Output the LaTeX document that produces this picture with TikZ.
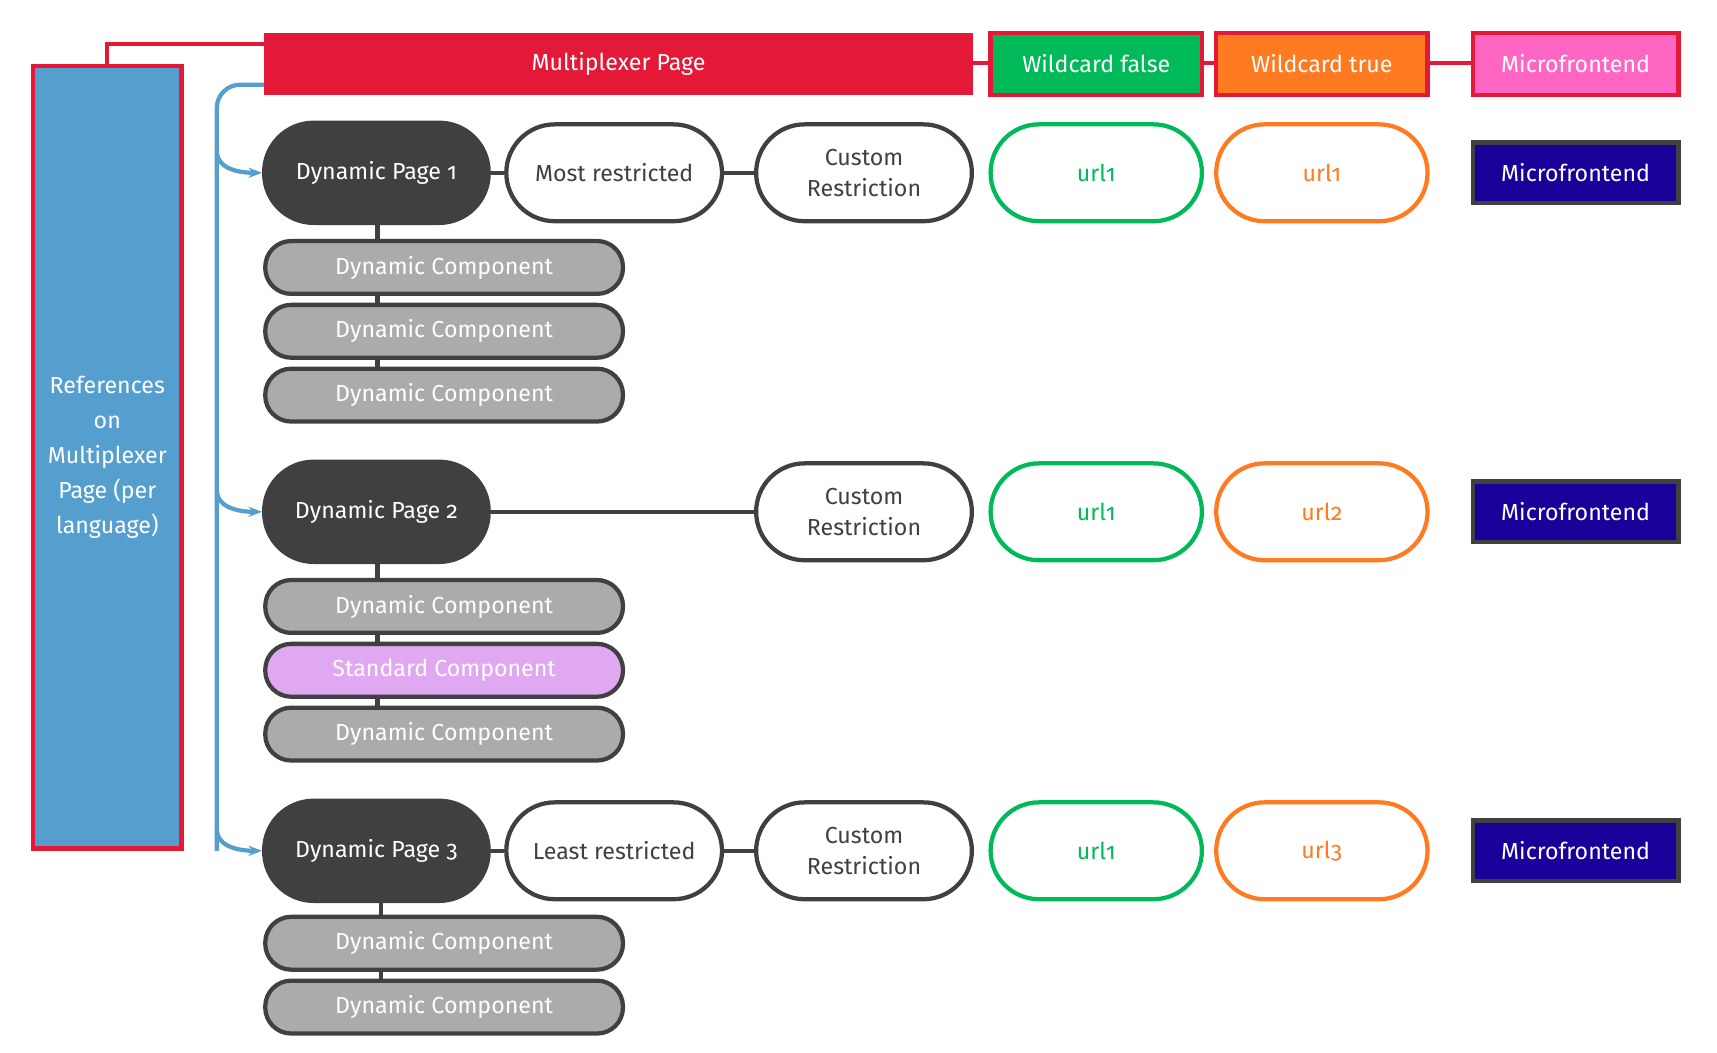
\documentclass[tikz,border=0pt]{standalone}
\usepackage{fontspec}
\setmainfont{Fira Sans}[Numbers=OldStyle]
\usetikzlibrary{arrows.meta}
\definecolor{mred}{HTML}{E31937}
\definecolor{mblue}{HTML}{559FCF}
\definecolor{mgreen}{HTML}{00BA5A}
\definecolor{morange}{HTML}{FF7A20}
\definecolor{mpink}{HTML}{FF66C4}
\definecolor{mdark}{HTML}{404040}
\definecolor{mnavy}{HTML}{1A0099}
\definecolor{mgray}{HTML}{ABABAB}
\definecolor{mviolet}{HTML}{E0A8F0}
\begin{document}
\begin{tikzpicture}[x=0.02cm,y=-0.02cm,
 lw/.style={line width=2.2pt},
 head/.style={lw,draw=mred,text=white,minimum height=56*0.02cm,inner sep=0pt,font=\large},
 page/.style={lw,draw=mdark,fill=mdark,text=white,rounded corners=0.9cm,minimum width=204*0.02cm,minimum height=91*0.02cm,font=\large},
 pill/.style={lw,draw=mdark,fill=white,text=mdark,rounded corners=0.88cm,minimum width=196*0.02cm,minimum height=88*0.02cm,align=center,font=\large},
 url/.style={lw,fill=white,rounded corners=0.88cm,minimum width=192*0.02cm,minimum height=88*0.02cm,font=\large},
 mf/.style={lw,draw=mdark,fill=mnavy,text=white,minimum width=187*0.02cm,minimum height=55*0.02cm,font=\large},
 comp/.style={lw,draw=mdark,fill=mgray,text=white,rounded corners=0.47cm,minimum width=325*0.02cm,minimum height=48*0.02cm,font=\large},
 con/.style={lw,draw=mdark},
 bl/.style={line width=2.2pt,draw=mblue,-{Stealth[length=7pt]}}]
\useasboundingbox (0,0) rectangle (1560,956);
% red top line
\draw[lw,mred] (97,60) -- (97,40) -- (240,40);
\draw[lw,mred] (884,57) -- (1338,57);
\node[lw,draw=mred,fill=mblue,text=white,minimum width=135*0.02cm,minimum height=711*0.02cm,align=center,font=\large,inner sep=0pt] (ref) at (97.5,415.5) {References\\[4pt]on\\[4pt]Multiplexer\\[4pt]Page (per\\[4pt]language)};
\node[fill=mred,text=white,minimum width=644*0.02cm,minimum height=56*0.02cm,font=\large] (mp) at (562,58) {Multiplexer Page};
\node[head,fill=mgreen,minimum width=192*0.02cm] (wf) at (996,58) {Wildcard false};
\node[head,fill=morange,minimum width=192*0.02cm] (wt) at (1201,58) {Wildcard true};
\node[head,fill=mpink,minimum width=187*0.02cm] (mfh) at (1431.5,58) {Microfrontend};
% blue bracket
\coordinate (b0) at (240,77);
\draw[line width=2.2pt,mblue,rounded corners=12pt] (b0) -- (197,77) -- (197,773);
% pages rows
\foreach \n/\y in {1/157,2/465,3/773}{
 \node[page] (p\n) at (342,\y) {Dynamic Page \n};
 \node[pill] (c\n) at (785,\y) {Custom\\[2pt]Restriction};
 \node[url,draw=mgreen,text=mgreen] (g\n) at (996,\y) {url1};
 \node[mf] (m\n) at (1431.5,\y) {Microfrontend};
 \draw[bl] (197,\y-20) to[out=-90,in=180] (p\n.west);
}
\node[url,draw=morange,text=morange] (o1) at (1201,157) {url1};
\node[url,draw=morange,text=morange] (o2) at (1201,465) {url2};
\node[url,draw=morange,text=morange] (o3) at (1201,773) {url3};
\node[pill] (r1) at (558,157) {Most restricted};
\node[pill] (r3) at (558,773) {Least restricted};
\draw[con] (p1) -- (r1) (r1) -- (c1);
\draw[con] (p2) -- (c2);
\draw[con] (p3) -- (r3) (r3) -- (c3);
% components
\node[comp] (d11) at (403.5,243) {Dynamic Component};
\node[comp] (d12) at (403.5,301) {Dynamic Component};
\node[comp] (d13) at (403.5,359) {Dynamic Component};
\node[comp] (d21) at (403.5,551) {Dynamic Component};
\node[comp,fill=mviolet] (d22) at (403.5,609) {Standard Component};
\node[comp] (d23) at (403.5,667) {Dynamic Component};
\node[comp] (d31) at (403.5,857) {Dynamic Component};
\node[comp] (d32) at (403.5,915) {Dynamic Component};
\begin{scope}[on background layer/.try]
\end{scope}
\draw[con] (343,204) -- (343,219) (343,267) -- (343,277) (343,325) -- (343,335);
\draw[con] (343,512) -- (343,527) (343,575) -- (343,585) (343,633) -- (343,643);
\draw[con] (346,820) -- (346,833) (346,881) -- (346,891);
\end{tikzpicture}
\end{document}
